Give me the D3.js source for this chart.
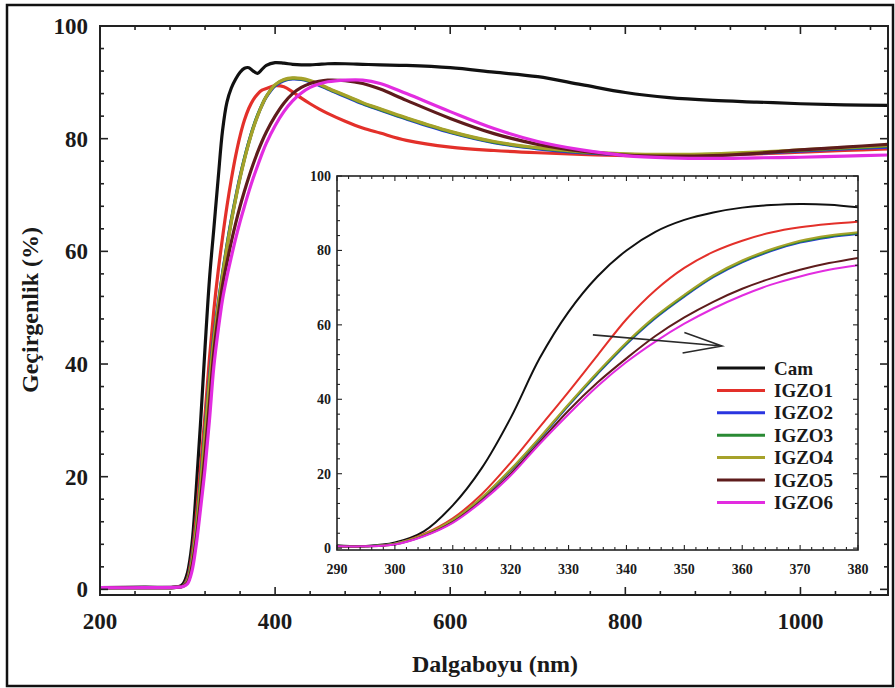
<!DOCTYPE html>
<html><head><meta charset="utf-8">
<script src="https://cdn.jsdelivr.net/npm/d3@7"></script>
<style>body{margin:0;background:#fff} text{font-family:"Liberation Serif","DejaVu Serif",serif;}</style>
</head><body><svg id="c" width="895" height="688"></svg>
<script>
// ---------- DATA ----------
const mainWavelengths = [200,250,290,295,300,305,310,315,320,325,330,335,340,345,350,355,360,365,370,375,380,385,390,400,410,420,430,440,450,460,480,500,520,550,600,650,700,750,800,850,900,950,1000,1050,1100];
const mainCam   = [0.3,0.4,0.5,1.0,3, 8,18,30,43,55, 64,73,81.5,86.5,89, 90.6,91.8,92.5,92.6,92.0, 91.6,92.3,93.0,93.5,93.4, 93.2,93.1,93.1,93.2,93.3, 93.3,93.2,93.1,93.0,92.6, 91.8,91.0,89.6,88.2,87.3, 86.8,86.5,86.2,86.0,85.9];
const mainIGZO1 = [0.3,0.3,0.4,0.6,2, 6,13,22,31,41, 49.5,56.5,62.5,68,72.8, 77,80.5,83.3,85.4,86.9, 87.9,88.6,88.9,89.4,89.2, 88.3,87.2,86.2,85.3,84.5, 83.1,81.9,81.0,79.7,78.5, 77.9,77.5,77.2,77.0,77.0, 77.1,77.3,77.6,77.9,78.2];
const mainIGZO2 = [0.3,0.3,0.4,0.6,1.7, 5.2,11.3,19.5,28.5,37.5, 45,50.8,56.2,61.1,65.6, 69.6,73.3,76.5,79.4,82, 84.1,85.9,87.4,89.4,90.3, 90.6,90.5,90.1,89.5,88.8, 87.5,86.2,85.1,83.5,81.1, 79.3,78.2,77.5,77.1,77.0, 77.1,77.4,77.8,78.2,78.5];
const mainIGZO3 = [0.3,0.3,0.4,0.6,1.6, 5,11,19,28,37, 44.5,50.5,56,61,65.5, 69.5,73.2,76.5,79.4,82, 84.2,86,87.5,89.5,90.4, 90.7,90.6,90.2,89.6,88.9, 87.6,86.3,85.2,83.6,81.2, 79.4,78.3,77.6,77.2,77.1, 77.2,77.5,77.9,78.3,78.7];
const mainIGZO4 = [0.3,0.3,0.4,0.6,1.5, 4.8,10.7,18.6,27.5,36.5, 44,50.2,55.7,60.7,65.2, 69.3,73,76.3,79.2,81.8, 84,85.9,87.5,89.6,90.5, 90.8,90.7,90.3,89.7,89.0, 87.7,86.4,85.3,83.7,81.3, 79.5,78.4,77.7,77.3,77.2, 77.3,77.6,78.0,78.4,78.8];
const mainIGZO5 = [0.3,0.3,0.4,0.6,1.2, 4,9,16,24,33, 42,48.5,54,58,61.7, 65,68,70.7,73.2,75.5, 77.6,79.5,81.2,84,86.3, 88,89.1,89.8,90.2,90.4, 90.3,89.8,88.8,86.8,83.6, 80.9,79.0,77.8,77.1,76.9, 77.0,77.4,78.0,78.5,79.0];
const mainIGZO6 = [0.3,0.3,0.4,0.5,1.0, 3.2,8,14.5,21.5,30, 39.5,46,51.5,55.5,59, 62.3,65.3,68,70.6,73, 75.2,77.3,79.2,82.3,84.8, 86.7,88.1,89.1,89.7,90.1, 90.4,90.4,89.8,88,84.8, 81.8,79.5,78,77,76.6, 76.5,76.6,76.7,76.9,77.1];

const insetWavelengths = [290,295,300,305,310,315,320,325,330,335,340,345,350,355,360,365,370,375,380];
const insetCam   = [0.8,0.6,1.5,4.5,11.5,21.5,35,51,63.5,73,80,85,88.2,90.2,91.5,92.2,92.5,92.3,91.6];
const insetIGZO1 = [0.5,0.5,1.2,3.8,8,14.5,23,32.5,42,51.8,61.5,69.3,75.3,79.6,82.6,84.8,86.2,87.1,87.7];
const insetIGZO2 = [0.5,0.5,1.2,3.5,7.5,13.4,20.9,29.3,38.3,46.8,54.8,61.8,67.6,72.8,76.8,79.8,82.1,83.5,84.4];
const insetIGZO3 = [0.5,0.5,1.2,3.5,7.5,13.5,21,29.5,38.5,47,55,62,67.8,73,77,80,82.3,83.7,84.6];
const insetIGZO4 = [0.5,0.5,1.2,3.6,7.6,13.6,21.2,29.7,38.7,47.3,55.3,62.3,68.1,73.3,77.3,80.3,82.6,84,84.9];
const insetIGZO5 = [0.5,0.5,1.0,3.3,7,12.8,20,28.5,37,44.5,51,57,62,66.2,69.7,72.5,74.8,76.6,78];
const insetIGZO6 = [0.5,0.5,1.0,3.2,6.8,12.5,19.5,28,36,43.5,50,55.5,60.3,64.4,67.9,70.8,73,74.8,76];

const seriesNames  = ["Cam","IGZO1","IGZO2","IGZO3","IGZO4","IGZO5","IGZO6"];
const seriesColors = ["#111111","#e3302a","#2a35e0","#2a8a34","#a6a22a","#5e1c1c","#e22ce0"];

const mainXTicks = [200,400,600,800,1000];
const mainYTicks = [0,20,40,60,80,100];
const insetXTicks = [290,300,310,320,330,340,350,360,370,380];
const insetYTicks = [0,20,40,60,80,100];
const arrowStart = [334.2, 57.3];
const arrowEnd   = [356.5, 54.3];

// ---------- DRAW ----------
const svg = d3.select("#c");
const FONT = "Liberation Serif, DejaVu Serif, serif";
const ink = "#1a1a1a";

svg.append("rect").attr("x",7).attr("y",5).attr("width",886).attr("height",681)
  .attr("fill","#fff").attr("stroke","#111").attr("stroke-width",2.5);

const mainSeries = [mainCam,mainIGZO1,mainIGZO2,mainIGZO3,mainIGZO4,mainIGZO5,mainIGZO6];
const insetSeries = [insetCam,insetIGZO1,insetIGZO2,insetIGZO3,insetIGZO4,insetIGZO5,insetIGZO6];

function framePlot(g, x, y, opt){
  const [x0,x1] = x.range(), [y0,y1] = y.range();
  const minorX = d3.range(x.domain()[0], x.domain()[1]+1e-9, opt.minorX);
  const minorY = d3.range(Math.ceil(y.domain()[0]/opt.minorY)*opt.minorY, y.domain()[1]+1e-9, opt.minorY);
  const tk = g.append("g").attr("stroke","#222").attr("stroke-width",opt.tw);
  minorX.forEach(v=>{
    const L = opt.xTicks.includes(v)?opt.major:opt.minor;
    tk.append("line").attr("x1",x(v)).attr("x2",x(v)).attr("y1",y0).attr("y2",y0-L);
    tk.append("line").attr("x1",x(v)).attr("x2",x(v)).attr("y1",y1).attr("y2",y1+L);
  });
  minorY.forEach(v=>{
    const L = opt.yTicks.includes(v)?opt.major:opt.minor;
    tk.append("line").attr("y1",y(v)).attr("y2",y(v)).attr("x1",x0).attr("x2",x0+L);
    tk.append("line").attr("y1",y(v)).attr("y2",y(v)).attr("x1",x1).attr("x2",x1-L);
  });
  g.append("rect").attr("x",x0).attr("y",y1).attr("width",x1-x0).attr("height",y0-y1)
    .attr("fill","none").attr("stroke","#222").attr("stroke-width",opt.fw);
  g.selectAll(".xl").data(opt.xTicks).enter().append("text")
    .attr("x",d=>x(d)).attr("y",y0+opt.xlOff).attr("text-anchor","middle")
    .attr("font-family",FONT).attr("font-weight","bold").attr("font-size",opt.fs).attr("fill",ink).text(d=>d);
  g.selectAll(".yl").data(opt.yTicks).enter().append("text")
    .attr("x",x0-opt.ylOff).attr("y",d=>y(d)).attr("dy","0.35em").attr("text-anchor","end")
    .attr("font-family",FONT).attr("font-weight","bold").attr("font-size",opt.fs).attr("fill",ink).text(d=>d);
}

// main plot
const xM = d3.scaleLinear().domain([200,1100]).range([100,888]);
const yM = d3.scaleLinear().domain([-1,100]).range([595,26]);
const gM = svg.append("g");
svg.append("clipPath").attr("id","cm").append("rect").attr("x",100).attr("y",26).attr("width",788).attr("height",569);
const lineM = d3.line().x((d,i)=>xM(mainWavelengths[i])).y(d=>yM(d)).curve(d3.curveCatmullRom.alpha(0.5));
gM.append("g").attr("clip-path","url(#cm)").selectAll("path").data(mainSeries).enter().append("path")
  .attr("d",lineM).attr("fill","none").attr("stroke",(d,i)=>seriesColors[i]).attr("stroke-width",3.2)
  .attr("stroke-linejoin","round");
framePlot(gM,xM,yM,{minorX:40,minorY:4,xTicks:mainXTicks,yTicks:mainYTicks,major:8,minor:4,tw:1.6,fw:2,fs:23,xlOff:34,ylOff:12});

svg.append("text").attr("x",495).attr("y",672).attr("text-anchor","middle")
  .attr("font-family",FONT).attr("font-weight","bold").attr("font-size",24).attr("fill",ink).text("Dalgaboyu (nm)");
svg.append("text").attr("transform","translate(38,310) rotate(-90)").attr("text-anchor","middle")
  .attr("font-family",FONT).attr("font-weight","bold").attr("font-size",24).attr("fill",ink).text("Geçirgenlik (%)");

// inset
const xI = d3.scaleLinear().domain([290,380]).range([337,858]);
const yI = d3.scaleLinear().domain([-0.5,100]).range([550,176]);
const gI = svg.append("g");
gI.append("rect").attr("x",337).attr("y",176).attr("width",521).attr("height",374).attr("fill","#fff");
svg.append("clipPath").attr("id","ci").append("rect").attr("x",337).attr("y",176).attr("width",521).attr("height",374);
const lineI = d3.line().x((d,i)=>xI(insetWavelengths[i])).y(d=>yI(d)).curve(d3.curveCatmullRom.alpha(0.5));
gI.append("g").attr("clip-path","url(#ci)").selectAll("path").data(insetSeries).enter().append("path")
  .attr("d",lineI).attr("fill","none").attr("stroke",(d,i)=>seriesColors[i]).attr("stroke-width",2)
  .attr("stroke-linejoin","round");
framePlot(gI,xI,yI,{minorX:2,minorY:4,xTicks:insetXTicks,yTicks:insetYTicks,major:5,minor:3,tw:1.1,fw:1.6,fs:14,xlOff:24,ylOff:6});

// arrow
const ax0 = xI(arrowStart[0]), ay0 = yI(arrowStart[1]);
const ax1 = xI(arrowEnd[0]),   ay1 = yI(arrowEnd[1]);
const ang = Math.atan2(ay1-ay0, ax1-ax0);
const bl = 40, spread = 15*Math.PI/180;
const b1 = [ax1 - bl*Math.cos(ang-spread), ay1 - bl*Math.sin(ang-spread)];
const b2 = [ax1 - bl*Math.cos(ang+spread), ay1 - bl*Math.sin(ang+spread)];
gI.append("path").attr("d",`M${ax0},${ay0}L${ax1},${ay1}M${b1[0]},${b1[1]}L${ax1},${ay1}L${b2[0]},${b2[1]}`)
  .attr("fill","none").attr("stroke","#2a2a2a").attr("stroke-width",1.6);

// legend
const leg = gI.append("g").attr("transform","translate(717,368)");
seriesNames.forEach((n,i)=>{
  const r = leg.append("g").attr("transform",`translate(0,${i*22.4})`);
  r.append("line").attr("x1",0).attr("x2",48).attr("stroke",seriesColors[i]).attr("stroke-width",3);
  r.append("text").attr("x",57).attr("dy","0.35em").attr("font-family",FONT).attr("font-weight","bold")
    .attr("font-size",19).attr("fill",ink).text(n);
});
</script></body></html>
